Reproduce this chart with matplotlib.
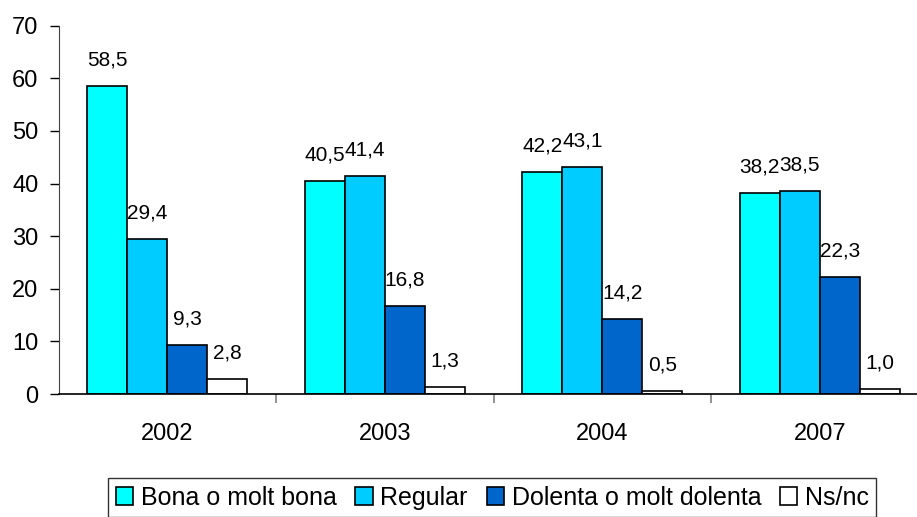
import numpy as np
import matplotlib
matplotlib.use("Agg")
from matplotlib import pyplot as plt

years = ["2002", "2003", "2004", "2007"]
series_names = ["Bona o molt bona", "Regular", "Dolenta o molt dolenta", "Ns/nc"]
bona = [58.5, 40.5, 42.2, 38.2]
regular = [29.4, 41.4, 43.1, 38.5]
dolenta = [9.3, 16.8, 14.2, 22.3]
nsnc = [2.8, 1.3, 0.5, 1.0]

colors = ["#00FFFF", "#00CCFF", "#0066CC", "#FFFFFF"]

plt.rcParams["font.family"] = ["Liberation Sans", "DejaVu Sans"]

fig = plt.figure(figsize=(9.17, 5.17), dpi=100)
# axes extends a bit past the right edge, like the cropped original
ax = fig.add_axes([0.064, 0.2379, 0.9486, 0.7124])

x = np.arange(len(years))
w = 0.184
all_series = [bona, regular, dolenta, nsnc]
for i, vals in enumerate(all_series):
    pos = x + (i - 1.5) * w
    bars = ax.bar(pos, vals, width=w, color=colors[i], edgecolor="black",
                  linewidth=1.2, label=series_names[i])
    for b, v in zip(bars, vals):
        ax.annotate(f"{v:.1f}".replace(".", ","),
                    (b.get_x() + b.get_width() / 2, v),
                    xytext=(0, 18.7), textcoords="offset points",
                    ha="center", va="center", fontsize=15)

ax.set_xlim(-0.5, 3.5)
ax.set_ylim(0, 70)
ax.set_yticks(range(0, 71, 10))
ax.tick_params(axis="y", labelsize=17, length=6.5, width=1, pad=8, direction="out")

ax.set_xticks(x)
ax.set_xticklabels(years)
ax.tick_params(axis="x", which="major", length=0, labelsize=17, pad=21)
ax.set_xticks([0.5, 1.5, 2.5, 3.5], minor=True)
ax.tick_params(axis="x", which="minor", length=6.5, width=1.2, color="#808080", direction="out")

ax.spines["top"].set_visible(False)
ax.spines["right"].set_visible(False)
ax.spines["left"].set_color("#404040")
ax.spines["bottom"].set_color("black")
ax.spines["bottom"].set_linewidth(1.2)

leg = fig.legend(loc="upper center", bbox_to_anchor=(0.537, 0.075), ncol=4,
                 fontsize=18, frameon=True, fancybox=False, edgecolor="black",
                 handlelength=0.7, handleheight=0.7, handletextpad=0.3,
                 columnspacing=0.75, borderpad=0.3, borderaxespad=0)
leg.get_frame().set_linewidth(1)

fig.savefig("out.png", dpi=100)
